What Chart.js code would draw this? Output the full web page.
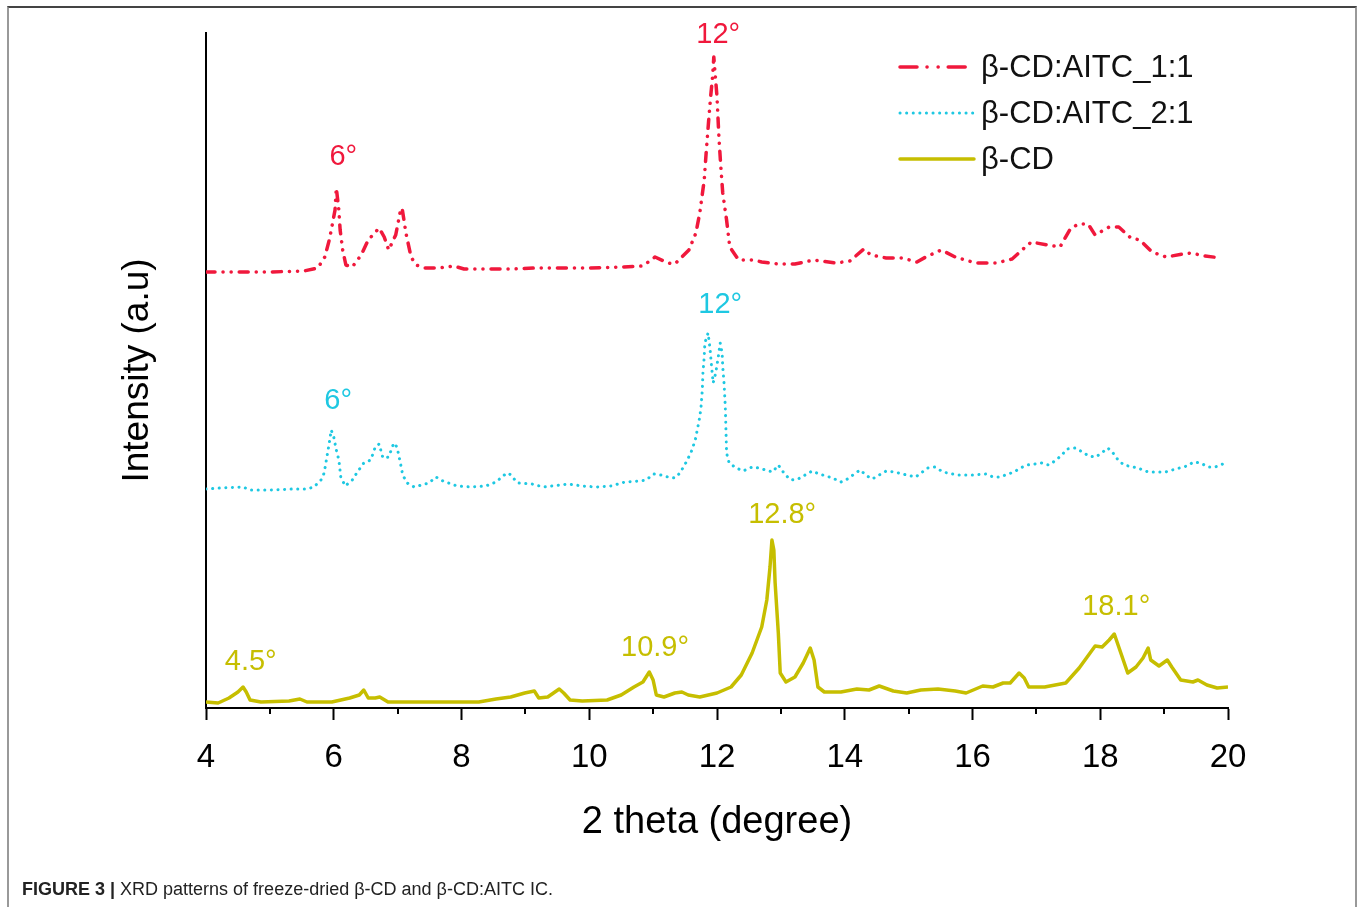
<!DOCTYPE html>
<html>
<head>
<meta charset="utf-8">
<script src="https://cdn.jsdelivr.net/npm/chart.js@4.4.1/dist/chart.umd.min.js"></script>
<style>
  body { margin: 0; background: #fff; }
  #wrap { position: relative; width: 1363px; height: 907px; overflow: hidden; }
  #myChart { position: absolute; left: 0; top: 0; }
  #frame { position: absolute; left: 7px; top: 6px; width: 1346px; height: 1000px;
           border-top: 2px solid #444; border-left: 2px solid #999; border-right: 2px solid #999; }
  #caption { position: absolute; left: 22px; top: 879px; font-family: 'Liberation Sans', Arial, sans-serif;
             font-size: 18px; color: #222; white-space: nowrap; }
  #caption b { font-weight: bold; }
</style>
</head>
<body>
<div id="wrap">
  <canvas id="myChart" width="1363" height="907"></canvas>
  <div id="frame"></div>
  <div id="caption"><b>FIGURE 3 |</b> XRD patterns of freeze-dried β-CD and β-CD:AITC IC.</div>
</div>
<script>
// 2 theta values and intensity (a.u., curves already offset as in the figure)
const theta11 = [4.00,4.47,4.97,5.53,5.75,5.86,5.93,5.97,6.02,6.04,6.08,6.10,6.14,6.19,6.29,6.43,6.54,6.71,6.79,6.86,6.97,7.04,7.07,7.13,7.21,7.29,7.43,7.65,7.88,8.04,8.38,8.78,9.17,9.67,10.00,10.50,10.84,11.03,11.23,11.34,11.56,11.67,11.73,11.80,11.83,11.87,11.90,11.93,11.95,12.00,12.03,12.06,12.09,12.15,12.20,12.34,12.58,12.70,12.97,13.22,13.52,13.86,14.08,14.30,14.41,14.65,14.90,15.13,15.27,15.51,15.73,16.05,16.38,16.62,16.81,16.92,17.17,17.37,17.54,17.67,17.81,17.92,18.14,18.29,18.48,18.62,18.81,19.03,19.30,19.42,19.64,19.89];
const int11 = [436,436,436,437,440,451,468,481,498,520,498,478,458,443,441,453,468,480,471,458,473,496,500,475,451,443,440,440,442,439,439,439,440,440,440,441,442,451,445,444,458,475,495,528,555,588,611,631,651,611,571,541,515,488,461,448,448,446,444,444,448,445,447,459,453,450,450,446,451,458,451,445,445,449,460,466,463,461,480,484,484,473,481,481,470,468,456,451,454,455,452,450];

const theta21 = [4.00,4.23,4.58,4.69,5.02,5.36,5.58,5.69,5.80,5.85,5.89,5.93,5.96,6.00,6.04,6.08,6.11,6.18,6.29,6.36,6.47,6.58,6.65,6.71,6.77,6.86,6.94,6.99,7.04,7.08,7.15,7.26,7.49,7.60,7.71,7.93,8.15,8.38,8.54,8.67,8.74,8.81,8.88,9.10,9.28,9.67,9.89,10.11,10.34,10.56,10.78,10.89,11.01,11.12,11.23,11.34,11.42,11.51,11.59,11.66,11.70,11.73,11.75,11.77,11.78,11.80,11.81,11.86,11.89,11.91,11.94,11.98,12.02,12.05,12.08,12.09,12.11,12.13,12.14,12.15,12.19,12.30,12.41,12.55,12.65,12.87,12.96,13.07,13.16,13.27,13.49,13.60,13.81,13.94,14.04,14.24,14.35,14.43,14.65,14.78,14.97,15.11,15.30,15.41,15.54,15.76,16.00,16.21,16.32,16.43,16.65,16.75,16.86,17.08,17.19,17.29,17.40,17.48,17.61,17.72,17.82,17.93,18.02,18.12,18.20,18.28,18.37,18.59,18.75,19.02,19.24,19.36,19.46,19.57,19.69,19.80,20.00];
const int21 = [219,220,221,218,218,219,219,221,228,235,250,265,278,271,258,248,231,222,228,235,245,248,261,264,250,251,265,261,246,233,225,221,225,231,227,222,221,222,226,233,235,230,225,224,221,224,222,221,222,226,227,228,234,233,231,230,235,245,255,268,281,291,301,318,335,351,365,375,360,345,325,335,351,365,355,341,325,301,278,255,245,240,237,241,240,236,243,233,228,229,237,234,230,226,229,238,232,229,237,236,233,231,240,241,236,233,233,234,231,231,236,240,243,245,243,247,253,259,260,256,252,251,255,260,255,248,243,240,236,236,240,242,246,245,241,241,246];

const thetaCD = [4.00,4.19,4.36,4.50,4.58,4.63,4.69,4.86,5.30,5.47,5.58,5.97,6.25,6.40,6.47,6.54,6.65,6.72,6.85,7.26,7.82,8.27,8.54,8.77,8.99,9.14,9.21,9.35,9.53,9.60,9.70,9.89,10.28,10.50,10.70,10.84,10.94,11.00,11.05,11.17,11.34,11.45,11.55,11.73,12.00,12.22,12.38,12.55,12.70,12.78,12.83,12.86,12.89,12.91,12.96,12.99,13.08,13.22,13.35,13.46,13.52,13.58,13.68,13.94,14.19,14.38,14.54,14.76,14.97,15.19,15.46,15.73,15.90,16.16,16.32,16.48,16.59,16.73,16.81,16.88,17.13,17.46,17.67,17.92,18.03,18.14,18.22,18.29,18.43,18.56,18.67,18.75,18.79,18.92,19.05,19.12,19.26,19.45,19.53,19.67,19.83,20.00];
const intCD = [6,5,10,16,21,16,8,6,7,9,6,6,10,13,18,10,10,11,6,6,6,6,9,11,15,17,10,11,19,15,8,7,8,13,21,26,36,28,13,11,15,16,13,11,15,21,33,55,81,108,141,168,158,125,75,35,26,31,45,60,48,21,16,16,19,18,22,17,15,18,19,17,15,22,21,25,25,35,30,21,21,25,40,62,61,68,74,61,35,41,50,60,48,42,48,41,28,26,28,23,20,21];

const seriesNames = ['β-CD:AITC_1:1', 'β-CD:AITC_2:1', 'β-CD'];
const seriesColors = ['#f0183c', '#1ec8e2', '#c6be00'];

// peak annotations
const peakText   = ['6°', '12°', '6°', '12°', '4.5°', '10.9°', '12.8°', '18.1°'];
const peakTheta  = [6.15, 12.02, 6.07, 12.05, 4.70, 11.03, 13.02, 18.25];
const peakInt    = [551, 673, 307, 403, 46, 60, 193, 101];
const peakSeries = [0, 0, 1, 1, 2, 2, 2, 2];

const xTicks = [4, 6, 8, 10, 12, 14, 16, 18, 20];

const toXY = (xs, ys) => xs.map((x, i) => ({x: x, y: ys[i]}));

const dashes = [[9, 8, 0.1, 8, 0.1, 8], [0.1, 6.5], []];
const legendDashes = [[17, 10, 0.1, 11, 0.1, 10], [0.1, 6.5], []];

const FONT = "'Liberation Sans', Arial, sans-serif";

const extras = {
    id: 'extras',
    afterDraw: (chart) => {
        const {ctx, scales: {x, y}} = chart;
        ctx.save();
        // minor ticks
        ctx.strokeStyle = '#000';
        ctx.lineWidth = 2;
        for (let v = 5; v < 20; v += 2) {
            const px = Math.round(x.getPixelForValue(v));
            ctx.beginPath();
            ctx.moveTo(px, y.bottom);
            ctx.lineTo(px, y.bottom + 6);
            ctx.stroke();
        }
        // peak labels
        ctx.font = '29px ' + FONT;
        ctx.textAlign = 'center';
        ctx.textBaseline = 'middle';
        peakText.forEach((t, i) => {
            ctx.fillStyle = seriesColors[peakSeries[i]];
            ctx.fillText(t, x.getPixelForValue(peakTheta[i]), y.getPixelForValue(peakInt[i]));
        });
        // legend
        const lx = 900, ly = 67, step = 46;
        ctx.lineCap = 'round';
        ctx.textAlign = 'left';
        ctx.font = '31px ' + FONT;
        seriesNames.forEach((name, i) => {
            const yy = ly + i * step;
            ctx.strokeStyle = seriesColors[i];
            ctx.lineWidth = i === 1 ? 3 : 3.5;
            ctx.setLineDash(legendDashes[i]);
            ctx.beginPath();
            ctx.moveTo(lx, yy);
            ctx.lineTo(lx + 74, yy);
            ctx.stroke();
            ctx.setLineDash([]);
            ctx.fillStyle = '#111';
            ctx.fillText(name, lx + 81, yy + 1);
        });
        ctx.restore();
    }
};

new Chart(document.getElementById('myChart'), {
    type: 'scatter',
    data: {
        datasets: [
            {label: seriesNames[0], data: toXY(theta11, int11)},
            {label: seriesNames[1], data: toXY(theta21, int21)},
            {label: seriesNames[2], data: toXY(thetaCD, intCD)}
        ].map((d, i) => Object.assign(d, {
            showLine: true,
            pointRadius: 0,
            borderColor: seriesColors[i],
            backgroundColor: seriesColors[i],
            borderWidth: i === 1 ? 3 : 3.5,
            borderDash: dashes[i],
            borderCapStyle: i === 2 ? 'butt' : 'round',
            borderJoinStyle: 'round'
        }))
    },
    options: {
        responsive: false,
        animation: false,
        devicePixelRatio: 1,
        layout: {padding: {top: 33, right: 135, bottom: 49, left: 0}},
        plugins: {legend: {display: false}, tooltip: {enabled: false}},
        scales: {
            x: {
                type: 'linear',
                min: 4,
                max: 20,
                afterFit: (s) => { s.height = 150; },
                afterBuildTicks: (s) => {
                    s.ticks = [];
                    for (let v = 4; v <= 20; v++) s.ticks.push({value: v});
                },
                border: {display: true, color: '#000', width: 2},
                grid: {
                    display: true,
                    drawOnChartArea: false,
                    tickLength: 12,
                    tickWidth: 2,
                    tickColor: (c) => (c.tick && xTicks.includes(c.tick.value)) ? '#000' : 'rgba(0,0,0,0)'
                },
                ticks: {
                    autoSkip: false,
                    maxRotation: 0,
                    padding: 18,
                    color: '#000',
                    font: {family: FONT, size: 33},
                    callback: (v) => xTicks.includes(v) ? String(v) : ''
                },
                title: {
                    display: true,
                    text: '2 theta (degree)',
                    color: '#000',
                    font: {family: FONT, size: 38},
                    padding: {top: 0, bottom: 13}
                }
            },
            y: {
                min: 0,
                max: 675,
                afterFit: (s) => { s.width = 206; },
                border: {display: true, color: '#000', width: 2},
                grid: {display: false},
                ticks: {display: false},
                title: {
                    display: true,
                    text: 'Intensity (a.u)',
                    color: '#000',
                    font: {family: FONT, size: 37},
                    padding: {top: 116, bottom: 0}
                }
            }
        }
    },
    plugins: [extras]
});
</script>
</body>
</html>
